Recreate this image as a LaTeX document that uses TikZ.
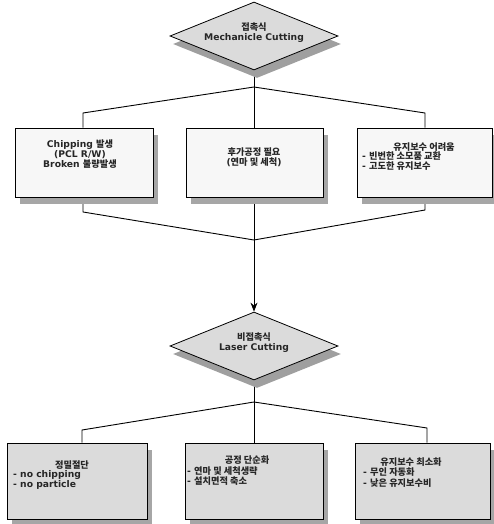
\documentclass[tikz,border=0pt]{standalone}
\usepackage{fontspec}
\setmainfont{DejaVu Sans}
\newfontfamily\kr{Noto Sans CJK KR}
\newcommand\K[1]{{\kr #1}}
\usetikzlibrary{arrows.meta,shapes.geometric,shadows,backgrounds}
\begin{document}
\begin{tikzpicture}[x=1pt,y=-1pt,
  txt/.style={font=\bfseries\fontsize{9.2}{10.2}\selectfont,inner sep=0pt,text=black!85},
  topbox/.style={draw=black,line width=1pt,fill=gray!6,minimum width=138pt,minimum height=69pt,inner sep=0pt,
    general shadow={fill=gray!70,shadow xshift=5pt,shadow yshift=-7pt}},
  botbox/.style={draw=black,line width=1pt,fill=gray!28,minimum width=138pt,minimum height=76pt,inner sep=0pt,
    general shadow={fill=gray!70,shadow xshift=5pt,shadow yshift=-7pt}},
  dia/.style={diamond,draw=black,line width=0.8pt,fill=gray!28,minimum width=168pt,minimum height=68pt,inner sep=0pt,
    general shadow={fill=gray!75,shadow xshift=3pt,shadow yshift=-8pt}},
  conn/.style={draw=black,line width=0.9pt}]
\useasboundingbox (0,0) rectangle (494,524);

% diamonds
\node[dia] (d1) at (254,36) {};
\node[txt,align=center] (d1t) at (254,33) {\K{접촉식}\\Mechanicle Cutting};
\node[dia] (d2) at (254,346) {};
\node[txt,align=center] (d2t) at (254,343) {\K{비접촉식}\\Laser Cutting};

% top row boxes
\node[topbox] (b1) at (84,162.5) {};
\node[topbox,minimum width=137pt] (b2) at (254.5,162.5) {};
\node[topbox,minimum width=135pt] (b3) at (424.5,162.5) {};
\node[txt,align=center] (b1t) at (80,154) {Chipping \K{발생}\\(PCL R/W)\\Broken \K{불량발생}};
\node[txt,align=center] (b2t) at (254,157) {\K{후가공정 필요}\\(\K{연마 및 세척})};
\node[txt] (b3h) at (424,147) {\K{유지보수 어려움}};
\node[txt,align=left,anchor=north west] (b3t) at (362,151.5) {- \K{빈번한 소모품 교환}\\- \K{고도한 유지보수}};

% bottom row boxes
\node[botbox,minimum width=140pt] (b4) at (77,481) {};
\node[botbox] (b5) at (254,481) {};
\node[botbox,minimum width=135pt] (b6) at (422.5,481) {};
\node[txt] (b4h) at (72,465) {\K{정밀절단}};
\node[txt,align=left,anchor=north west] (b4t) at (13,470) {- no chipping\\- no particle};
\node[txt] (b5h) at (247,460) {\K{공정 단순화}};
\node[txt,align=left,anchor=north west] (b5t) at (187,466.5) {- \K{연마 및 세척생략}\\- \K{설치면적 축소}};
\node[txt] (b6h) at (411,462) {\K{유지보수 최소화}};
\node[txt,align=left,anchor=north west] (b6t) at (363,468) {- \K{무인 자동화}\\- \K{낮은 유지보수비}};

% junction coordinates
\coordinate (t0) at (254,87);
\coordinate (t1) at (83,113);
\coordinate (t3) at (425,113);
\coordinate (m1) at (83,212);
\coordinate (m3) at (425,210);
\coordinate (m0) at (254,240);
\coordinate (n0) at (254,402);
\coordinate (n4) at (82,430);
\coordinate (n6) at (427,428);

\begin{pgfonlayer}{background}
\draw[conn] (d1.south) -- (t0);
\draw[conn] (t0) -- (t1) -- (t1 |- b1.north);
\draw[conn] (t0) -- (t0 |- b2.north);
\draw[conn] (t0) -- (t3) -- (t3 |- b3.north);
\draw[conn] (m1 |- b1.south) -- (m1) -- (m0);
\draw[conn] (m3 |- b3.south) -- (m3) -- (m0);
\draw[conn] (m0 |- b2.south) -- (m0);
\draw[conn] (d2.south) -- (n0);
\draw[conn] (n0) -- (n4) -- (n4 |- b4.north);
\draw[conn] (n0) -- (n0 |- b5.north);
\draw[conn] (n0) -- (n6) -- (n6 |- b6.north);
\end{pgfonlayer}
\draw[conn,-{Stealth[length=9pt,width=7pt]}] (m0) -- (d2.north);
\end{tikzpicture}
\end{document}
